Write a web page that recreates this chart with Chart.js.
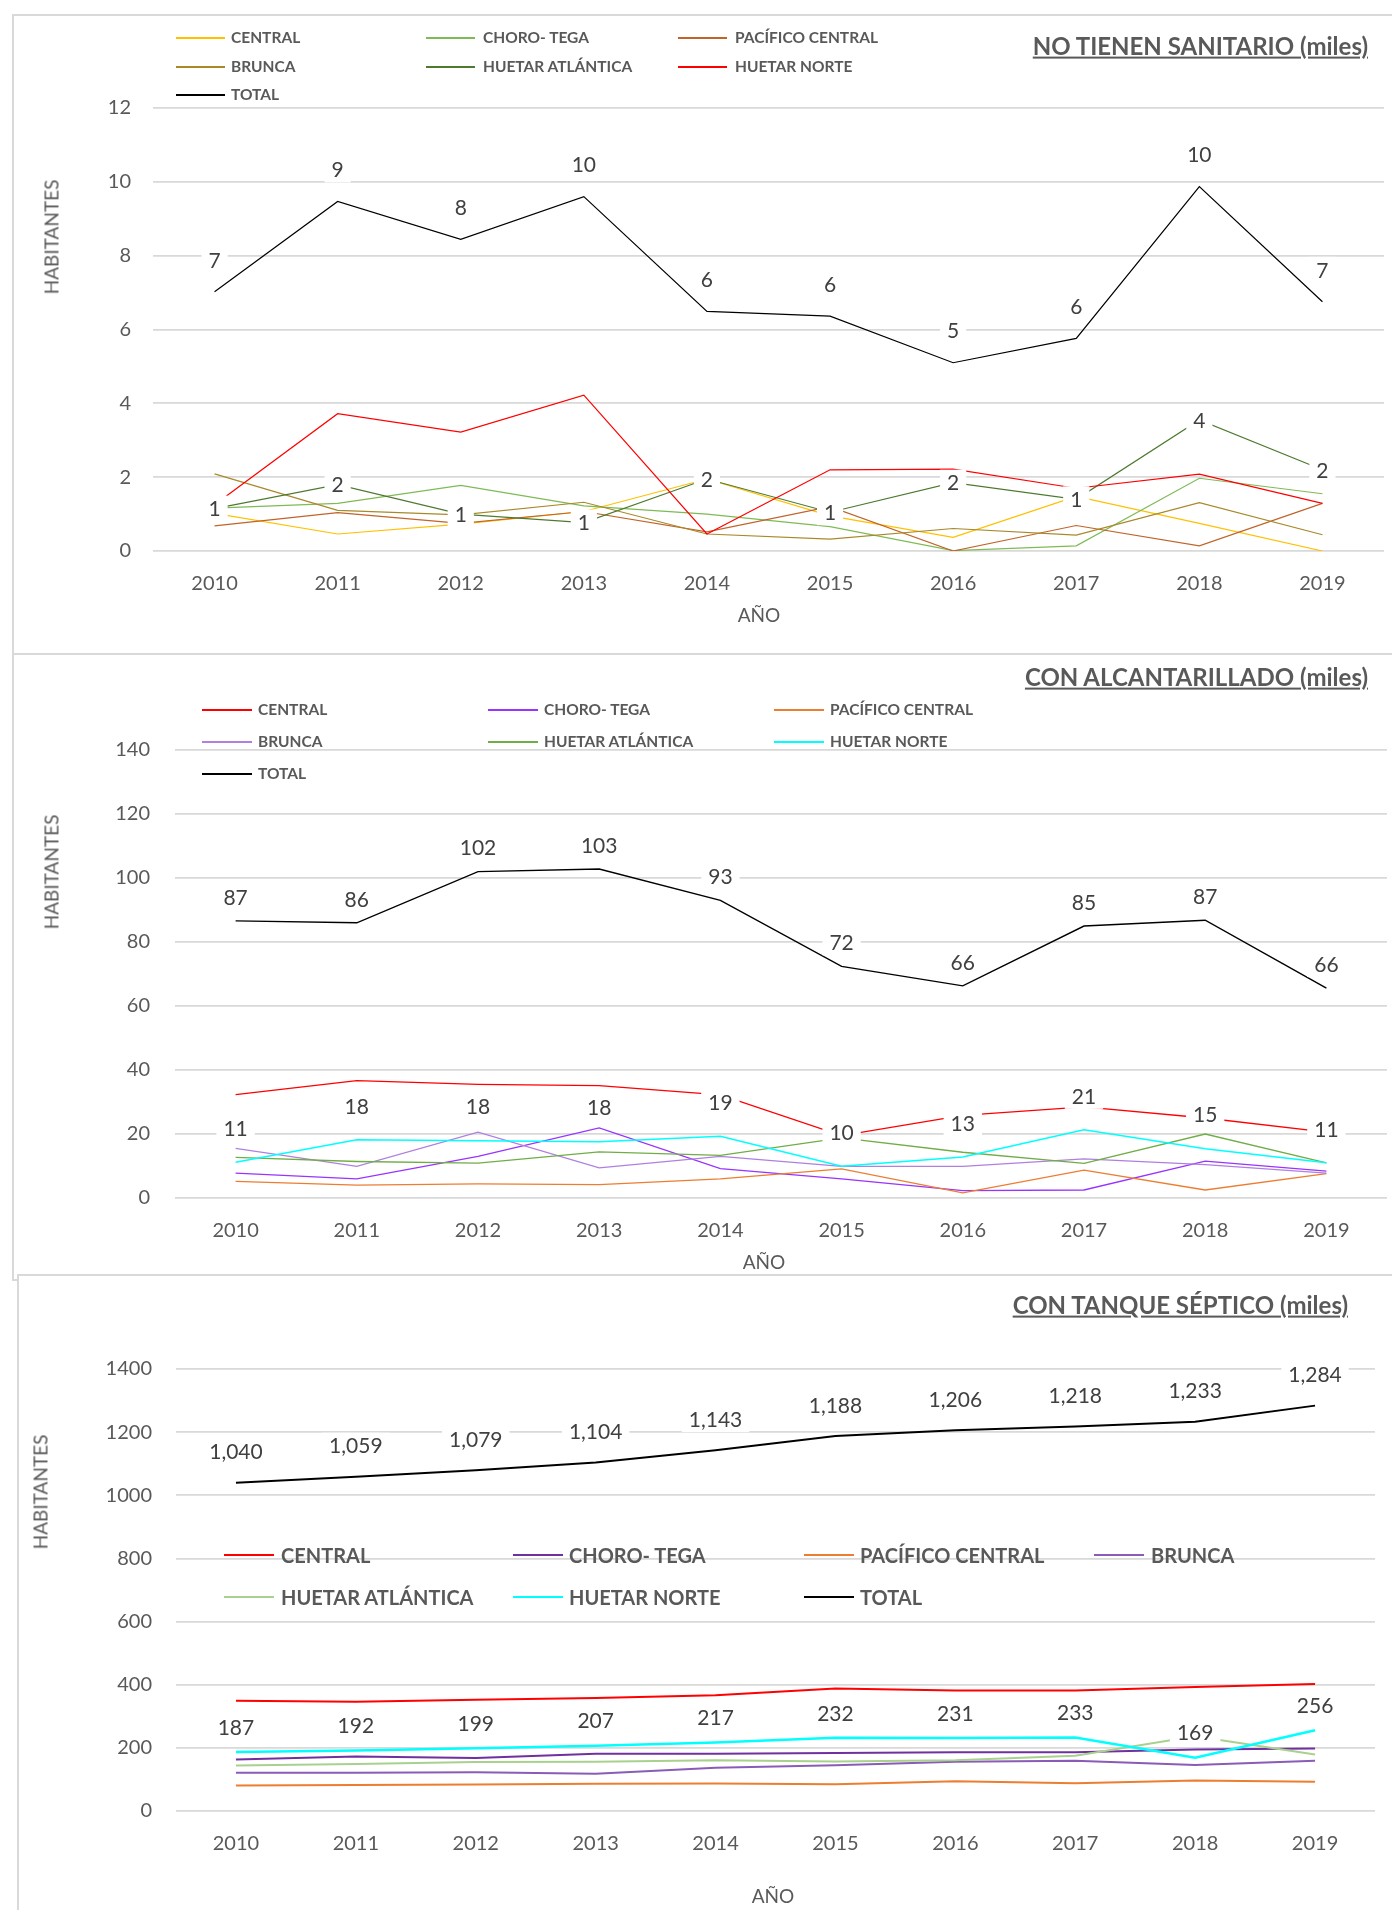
<!DOCTYPE html>
<html lang="es">
<head>
<meta charset="utf-8">
<title>Habitantes por región</title>
<script src="https://cdn.jsdelivr.net/npm/chart.js@4.4.1/dist/chart.umd.min.js"></script>
<style>
  html, body { margin:0; padding:0; background:#fff; }
  body { width:1392px; height:1910px; position:relative; overflow:hidden; font-family: Lato, "Open Sans", sans-serif; color:#595959; }
  .panel { position:absolute; border:2px solid #d9d9d9; box-sizing:border-box; background:#fff; }
  canvas { position:absolute; left:0; }
  .titulo { position:absolute; font-weight:bold; font-size:24px; line-height:1.2; text-decoration:underline; white-space:nowrap; transform:translateY(-50%); }
  .eje { position:absolute; font-size:19px; line-height:1; white-space:nowrap; transform:translate(-50%,-50%); }
  .eje.v { transform:translate(-50%,-50%) rotate(-90deg); }
  .ley-linea { position:absolute; }
  .ley-texto { position:absolute; font-weight:bold; white-space:nowrap; line-height:1; transform:translateY(-50%); }
</style>
</head>
<body>
<div class="panel" style="left:12px;top:14px;width:1400px;height:641px"></div>
<div class="panel" style="left:12px;top:653px;width:1400px;height:628px"></div>
<div class="panel" style="left:17px;top:1274px;width:1400px;height:700px"></div>

<canvas id="sanitario" width="1392" height="641" style="top:14px;width:1392px;height:641px"></canvas>
<canvas id="alcantarillado" width="1392" height="627" style="top:653px;width:1392px;height:627px"></canvas>
<canvas id="septico" width="1392" height="636" style="top:1274px;width:1392px;height:636px"></canvas>

<div class="titulo" style="right:24px;top:46px">NO TIENEN SANITARIO (miles)</div>
<div class="titulo" style="right:24px;top:677px">CON ALCANTARILLADO (miles)</div>
<div class="titulo" style="right:44px;top:1305px">CON TANQUE SÉPTICO (miles)</div>

<div class="eje v" style="left:51px;top:237px">HABITANTES</div>
<div class="eje v" style="left:51px;top:872px">HABITANTES</div>
<div class="eje v" style="left:40px;top:1492px">HABITANTES</div>
<div class="eje" style="left:759px;top:614px">AÑO</div>
<div class="eje" style="left:764px;top:1261px">AÑO</div>
<div class="eje" style="left:773px;top:1895px">AÑO</div>

<div id="leyendas"></div>

<script>
var anios = ['2010','2011','2012','2013','2014','2015','2016','2017','2018','2019'];
var regiones = ['CENTRAL','CHORO- TEGA','PACÍFICO CENTRAL','BRUNCA','HUETAR ATLÁNTICA','HUETAR NORTE','TOTAL'];

// no tienen sanitario (miles)
var sanCentral   = [1.02, 0.46, 0.73, 1.07, 1.95, 0.95, 0.37, 1.48, 0.75, 0.00];
var sanChoro     = [1.16, 1.29, 1.78, 1.22, 1.00, 0.66, 0.01, 0.14, 1.97, 1.55];
var sanPacifico  = [0.68, 1.04, 0.75, 1.07, 0.52, 1.20, 0.00, 0.69, 0.14, 1.29];
var sanBrunca    = [2.09, 1.10, 0.98, 1.32, 0.46, 0.32, 0.61, 0.43, 1.31, 0.44];
var sanAtlantica = [1.15, 1.80, 1.00, 0.77, 1.95, 1.05, 1.85, 1.40, 3.55, 2.20];
var sanNorte     = [1.25, 3.72, 3.22, 4.22, 0.46, 2.20, 2.22, 1.70, 2.08, 1.29];
var sanTotal     = [7.02, 9.47, 8.44, 9.60, 6.49, 6.36, 5.10, 5.76, 9.87, 6.75];
var sanTicks = {min: 0, max: 12, step: 2};

// con alcantarillado (miles)
var alcCentral   = [32.3, 36.7, 35.5, 35.1, 32.2, 19.5, 25.8, 28.5, 25.0, 20.6];
var alcChoro     = [7.8, 6.0, 13.0, 21.9, 9.2, 6.0, 2.3, 2.5, 11.5, 8.4];
var alcPacifico  = [5.2, 4.0, 4.4, 4.2, 6.0, 9.1, 1.6, 8.7, 2.5, 7.6];
var alcBrunca    = [15.5, 9.9, 20.6, 9.4, 13.0, 9.9, 9.9, 12.2, 10.4, 7.8];
var alcAtlantica = [12.7, 11.4, 10.9, 14.4, 13.3, 18.8, 14.3, 10.8, 20.0, 11.0];
var alcNorte     = [11.2, 18.2, 17.9, 17.6, 19.3, 9.9, 12.8, 21.3, 15.4, 11.0];
var alcTotal     = [86.6, 86.0, 102.0, 102.8, 93.0, 72.4, 66.3, 85.0, 86.8, 65.6];
var alcTicks = {min: 0, max: 140, step: 20};

// con tanque septico (miles)
var sepCentral   = [349, 346, 352, 358, 367, 388, 382, 382, 393, 402];
var sepChoro     = [163, 173, 168, 181, 181, 184, 186, 186, 195, 198];
var sepPacifico  = [81, 82, 84, 86, 87, 85, 94, 88, 97, 93];
var sepBrunca    = [121, 121, 123, 118, 137, 145, 156, 159, 146, 159];
var sepAtlantica = [144, 149, 155, 156, 161, 157, 161, 175, 237, 179];
var sepNorte     = [187, 192, 199, 207, 217, 232, 231, 233, 169, 256];
var sepTotal     = [1040, 1059, 1079, 1104, 1143, 1188, 1206, 1218, 1233, 1284];
var sepTicks = {min: 0, max: 1400, step: 200};

var fuente = 'Lato, "Open Sans", sans-serif';
Chart.defaults.font.family = fuente;
Chart.defaults.color = '#595959';

// etiquetas de datos con fondo blanco (como en excel)
var etiquetasPlugin = {
  id: 'etiquetas',
  afterDatasetsDraw: function(chart, args, opts) {
    var ctx = chart.ctx;
    ctx.save();
    ctx.font = '21px ' + fuente;
    ctx.textAlign = 'center';
    ctx.textBaseline = 'middle';
    (opts.items || []).forEach(function(it) {
      var meta = chart.getDatasetMeta(it.ds);
      var valores = chart.data.datasets[it.ds].data;
      meta.data.forEach(function(p, i) {
        var txt = Math.round(valores[i]).toLocaleString('en-US');
        var w = ctx.measureText(txt).width;
        var y = p.y + it.dy;
        ctx.fillStyle = '#ffffff';
        ctx.fillRect(p.x - w / 2 - 7, y - 13, w + 14, 26);
        ctx.fillStyle = '#404040';
        ctx.fillText(txt, p.x, y + 1);
      });
    });
    ctx.restore();
  }
};

function armarSeries(valores, colores, ancho) {
  return valores.map(function(v, i) {
    return {
      label: regiones[i],
      data: v,
      borderColor: colores[i],
      backgroundColor: colores[i],
      borderWidth: ancho[i],
      pointRadius: 0,
      pointHoverRadius: 0,
      tension: 0,
      fill: false,
      order: valores.length - i
    };
  });
}

function crearGrafico(id, datasets, ticks, area, etiquetas) {
  var canvas = document.getElementById(id);
  return new Chart(canvas, {
    type: 'line',
    data: { labels: anios, datasets: datasets },
    plugins: [etiquetasPlugin],
    options: {
      responsive: false,
      animation: false,
      devicePixelRatio: 1,
      layout: { padding: { left: 0, right: canvas.width - area.right, top: area.top, bottom: canvas.height - area.bottom - 60 } },
      plugins: {
        legend: { display: false },
        tooltip: { enabled: false },
        etiquetas: { items: etiquetas }
      },
      scales: {
        x: {
          offset: true,
          grid: { display: false },
          border: { display: false },
          ticks: { font: { size: 20 }, padding: 13, maxRotation: 0, autoSkip: false },
          afterFit: function(s) { s.height = 60; }
        },
        y: {
          min: ticks.min,
          max: ticks.max,
          grid: { color: '#d9d9d9', lineWidth: 1.8, drawTicks: false },
          border: { display: false },
          ticks: {
            stepSize: ticks.step,
            font: { size: 20 },
            padding: area.tickPad,
            callback: function(v) { return String(v); }
          },
          afterFit: function(s) { s.width = area.left; }
        }
      }
    }
  });
}

function dibujarLeyenda(datasets, cfg) {
  var cont = document.getElementById('leyendas');
  datasets.forEach(function(ds, i) {
    var col = i % cfg.cols;
    var fila = Math.floor(i / cfg.cols);
    var y = cfg.filas[fila];
    var linea = document.createElement('div');
    linea.className = 'ley-linea';
    linea.style.left = cfg.lineas[col] + 'px';
    linea.style.top = (y - cfg.grosor / 2) + 'px';
    linea.style.width = cfg.largo + 'px';
    linea.style.height = cfg.grosor + 'px';
    linea.style.background = ds.borderColor;
    cont.appendChild(linea);
    var txt = document.createElement('div');
    txt.className = 'ley-texto';
    txt.style.left = cfg.textos[col] + 'px';
    txt.style.top = y + 'px';
    txt.style.fontSize = cfg.tam + 'px';
    txt.textContent = ds.label;
    cont.appendChild(txt);
  });
}

var sanSeries = armarSeries(
  [sanCentral, sanChoro, sanPacifico, sanBrunca, sanAtlantica, sanNorte, sanTotal],
  ['#FFC000', '#7FBA55', '#C0642A', '#A8892A', '#4E7A30', '#FF0000', '#000000'],
  [1.2, 1.2, 1.2, 1.2, 1.2, 1.2, 1.2]);
var alcSeries = armarSeries(
  [alcCentral, alcChoro, alcPacifico, alcBrunca, alcAtlantica, alcNorte, alcTotal],
  ['#FF0000', '#9933FF', '#ED7D31', '#B07FE0', '#70AD47', '#00FFFF', '#000000'],
  [1.3, 1.3, 1.3, 1.3, 1.3, 1.5, 1.4]);
var sepSeries = armarSeries(
  [sepCentral, sepChoro, sepPacifico, sepBrunca, sepAtlantica, sepNorte, sepTotal],
  ['#FF0000', '#7030A0', '#ED7D31', '#8A5CB8', '#A9D18E', '#00FFFF', '#000000'],
  [2, 2, 2, 2, 2, 2.5, 2]);

crearGrafico('sanitario', sanSeries, sanTicks,
  {left: 153, right: 1384, top: 94, bottom: 537, tickPad: 22},
  [{ds: 6, dy: -32}, {ds: 4, dy: 0}]);
crearGrafico('alcantarillado', alcSeries, alcTicks,
  {left: 175, right: 1387, top: 97, bottom: 545, tickPad: 25},
  [{ds: 6, dy: -24}, {ds: 5, dy: -34}]);
crearGrafico('septico', sepSeries, sepTicks,
  {left: 176, right: 1375, top: 95, bottom: 537, tickPad: 24},
  [{ds: 6, dy: -31}, {ds: 5, dy: -25}]);

dibujarLeyenda(sanSeries, {cols: 3, lineas: [176, 426, 678], textos: [231, 483, 735], filas: [38, 67, 95], largo: 49, grosor: 1.5, tam: 15.5});
dibujarLeyenda(alcSeries, {cols: 3, lineas: [202, 488, 774], textos: [258, 544, 830], filas: [710, 742, 774], largo: 50, grosor: 2, tam: 15.5});
dibujarLeyenda(sepSeries, {cols: 4, lineas: [224, 513, 804, 1094], textos: [281, 569, 860, 1151], filas: [1555, 1597], largo: 50, grosor: 2.5, tam: 20});
</script>
</body>
</html>
